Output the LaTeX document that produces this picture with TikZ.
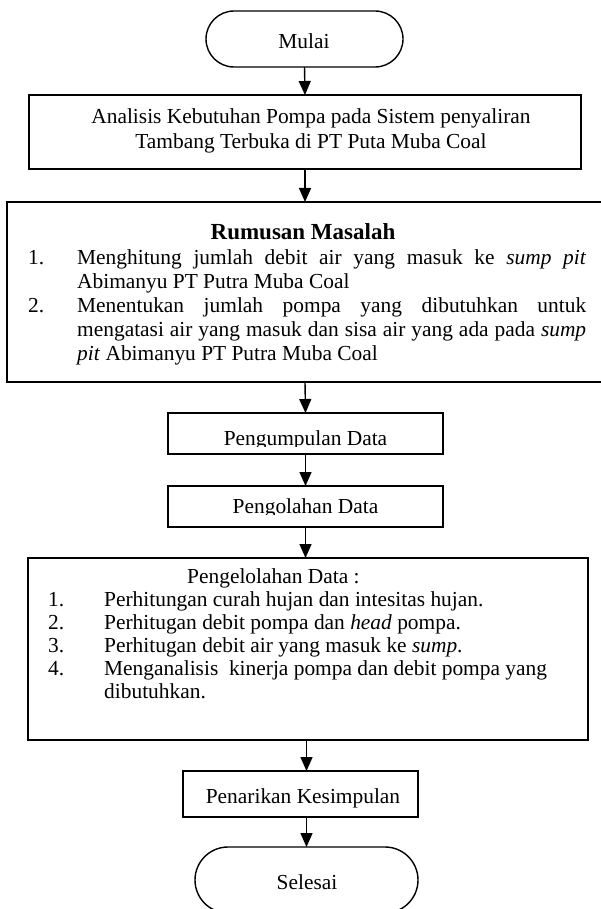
\documentclass[tikz,border=0pt]{standalone}
\usepackage{fontspec}
\setmainfont{Liberation Serif}
\usetikzlibrary{arrows.meta}
\begin{document}
\begin{tikzpicture}[x=1pt,y=-1pt,
  box/.style={draw, line width=1.4pt, inner sep=0pt, outer sep=0pt},
  txt/.style={font=\fontsize{21.4}{24}\selectfont, inner sep=0pt, anchor=base},
  arr/.style={line width=1.4pt, -{Triangle[width=12pt,length=14pt]}}]
\useasboundingbox (0,0) rectangle (601,909);
\fill[white] (0,0) rectangle (601,909);
\clip (0,0) rectangle (601,909);

% boxes
\node[box, rounded corners=28pt, minimum width=197pt, minimum height=56pt] (mulai) at (304.5,39) {};
\node[box, minimum width=552pt, minimum height=74pt] (analisis) at (305,132) {};
\node[box, minimum width=596pt, minimum height=180pt] (rumusan) at (305,292) {};
\node[box, minimum width=275pt, minimum height=41pt] (kumpul) at (305.5,433.5) {};
\node[box, minimum width=275pt, minimum height=41pt] (olah) at (305.5,506.5) {};
\node[box, minimum width=560pt, minimum height=182pt] (kelola) at (308,649) {};
\node[box, minimum width=235pt, minimum height=46pt] (tarik) at (300.5,794) {};
\node[box, rounded corners=33pt, minimum width=223pt, minimum height=66pt] (selesai) at (306.5,880) {};

% texts
\node[txt] (tmulai) at (304,49) {Mulai};
\node[txt] (tanal1) at (311,124) {Analisis Kebutuhan Pompa pada Sistem penyaliran};
\node[txt] (tanal2) at (311,149) {Tambang Terbuka di PT Puta Muba Coal};

\node[txt, font=\fontsize{23}{26}\selectfont\bfseries] (rtitle) at (303,240) {Rumusan Masalah};
\node[txt, anchor=base west] (rn1) at (28,264) {1.};
\node[txt, anchor=base west, text width=509pt, align=justify] (r1) at (77,264)
  {Menghitung jumlah debit air yang masuk ke \textit{sump pit}\linebreak Abimanyu PT Putra Muba Coal};
\node[txt, anchor=base west] (rn2) at (28,312) {2.};
\node[txt, anchor=base west, text width=509pt, align=justify] (r2) at (77,312)
  {Menentukan jumlah pompa yang dibutuhkan untuk\linebreak mengatasi air yang masuk dan sisa air yang ada pada \textit{sump}\linebreak \textit{pit} Abimanyu PT Putra Muba Coal};

\begin{scope}
\clip (168,413) rectangle (443,446);
\node[txt] (tkumpul) at (305.5,445) {Pengumpulan Data};
\end{scope}
\begin{scope}
\clip (168,486) rectangle (443,514);
\node[txt] (tolah) at (305.5,513) {Pengolahan Data};
\end{scope}

\node[txt, anchor=base west] (ktitle) at (187,583) {Pengelolahan Data :};
\node[txt, anchor=base west] (kn1) at (48,606) {1.};
\node[txt, anchor=base west] (k1) at (104,606) {Perhitungan curah hujan dan intesitas hujan.};
\node[txt, anchor=base west] (kn2) at (48,629) {2.};
\node[txt, anchor=base west] (k2) at (104,629) {Perhitugan debit pompa dan \textit{head} pompa.};
\node[txt, anchor=base west] (kn3) at (48,652) {3.};
\node[txt, anchor=base west] (k3) at (104,652) {Perhitugan debit air yang masuk ke \textit{sump}.};
\node[txt, anchor=base west] (kn4) at (48,675) {4.};
\node[txt, anchor=base west] (k4) at (104,675) {Menganalisis\ \ kinerja pompa dan debit pompa yang};
\node[txt, anchor=base west] (k4b) at (104,698) {dibutuhkan.};

\node[txt] (ttarik) at (303,803) {Penarikan Kesimpulan};
\node[txt] (tselesai) at (307,889) {Selesai};

% arrows
\draw[arr] (mulai.south) -- (analisis.north);
\draw[arr] (analisis.south) -- (rumusan.north);
\draw[arr] (rumusan.south) -- (kumpul.north);
\draw[arr] (kumpul.south) -- (olah.north);
\draw[arr] (olah.south) -- (olah.south |- kelola.north);
\draw[arr] (selesai.north |- kelola.south) -- (selesai.north |- tarik.north);
\draw[arr] (selesai.north |- tarik.south) -- (selesai.north);
\end{tikzpicture}
\end{document}
